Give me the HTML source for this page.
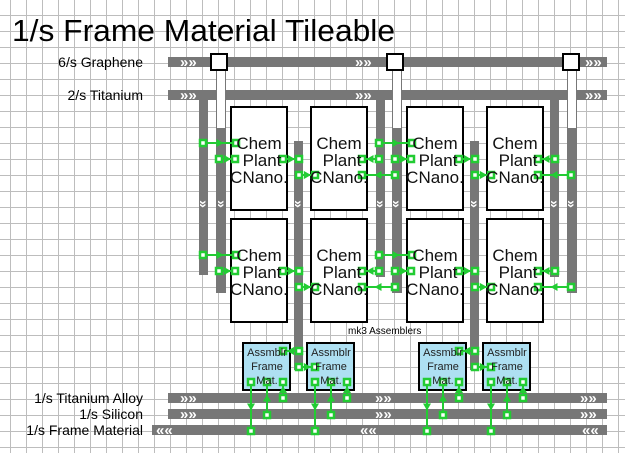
<!DOCTYPE html>
<html><head><meta charset="utf-8"><style>
html,body{margin:0;padding:0;background:#fff}
svg{display:block}
text{font-family:"Liberation Sans",Arial,sans-serif}
</style></head><body>
<svg id="s" width="625" height="453" viewBox="0 0 625 453" xmlns="http://www.w3.org/2000/svg">
<g id="grid" stroke="#bdbdbd" stroke-width="1"></g>
<g id="belts" fill="#777"></g>
<g id="boxes"></g>
<g id="ins"></g>
<g id="txt">
<text x="12" y="41" font-size="31" textLength="383" lengthAdjust="spacingAndGlyphs">1/s Frame Material  Tileable</text>
<text x="143" y="67" font-size="14" text-anchor="end">6/s Graphene</text>
<text x="143" y="100" font-size="14" text-anchor="end">2/s Titanium</text>
<text x="143" y="403" font-size="14" text-anchor="end">1/s Titanium Alloy</text>
<text x="143" y="419" font-size="14" text-anchor="end">1/s Silicon</text>
<text x="143" y="435" font-size="14" text-anchor="end">1/s Frame Material</text>
<text x="348" y="334" font-size="10">mk3 Assemblers</text>
</g>
<g id="ptxt" font-size="17" fill="#111" text-anchor="middle">
<text x="259" y="149">Chem</text><text x="262" y="166">Plant</text><text x="259" y="183">CNano.</text>
<text x="339" y="149">Chem</text><text x="342" y="166">Plant</text><text x="339" y="183">CNano.</text>
<text x="435" y="149">Chem</text><text x="438" y="166">Plant</text><text x="435" y="183">CNano.</text>
<text x="515" y="149">Chem</text><text x="518" y="166">Plant</text><text x="515" y="183">CNano.</text>
<text x="259" y="261">Chem</text><text x="262" y="278">Plant</text><text x="259" y="295">CNano.</text>
<text x="339" y="261">Chem</text><text x="342" y="278">Plant</text><text x="339" y="295">CNano.</text>
<text x="435" y="261">Chem</text><text x="438" y="278">Plant</text><text x="435" y="295">CNano.</text>
<text x="515" y="261">Chem</text><text x="518" y="278">Plant</text><text x="515" y="295">CNano.</text>
</g>
<g id="atxt" font-size="11" fill="#222" text-anchor="middle">
<text x="267" y="356">Assmblr</text><text x="267" y="370">Frame</text><text x="267" y="384">Mat.</text>
<text x="331" y="356">Assmblr</text><text x="331" y="370">Frame</text><text x="331" y="384">Mat.</text>
<text x="443" y="356">Assmblr</text><text x="443" y="370">Frame</text><text x="443" y="384">Mat.</text>
<text x="507" y="356">Assmblr</text><text x="507" y="370">Frame</text><text x="507" y="384">Mat.</text>
</g>
<g id="chev" fill="#fff" font-size="15" font-weight="bold">
<text x="180" y="67">»»</text><text x="355" y="67">»»</text><text x="585" y="67">»»</text>
<text x="180" y="100">»»</text><text x="355" y="100">»»</text><text x="585" y="100">»»</text>
<text x="180" y="403">»»</text><text x="375" y="403">»»</text><text x="580" y="403">»»</text>
<text x="180" y="419">»»</text><text x="375" y="419">»»</text><text x="580" y="419">»»</text>
<text x="156" y="435">««</text><text x="360" y="435">««</text><text x="582" y="435">««</text>
</g>
</svg>
<script>
var NS="http://www.w3.org/2000/svg";
function el(p,t,a){var e=document.createElementNS(NS,t);for(var k in a)e.setAttribute(k,a[k]);document.getElementById(p).appendChild(e);return e;}
for(var x=10;x<625;x+=16)el("grid","line",{x1:x+.5,y1:0,x2:x+.5,y2:453});
for(var y=15;y<453;y+=16)el("grid","line",{x1:0,y1:y+.5,x2:625,y2:y+.5});
function R(x,y,w,h,f){el("belts","rect",{x:x,y:y,width:w,height:h,fill:f||"#777"});}
R(168,57,439,10);R(168,90,439,10);
R(168,393,439,10);R(168,409,439,10);R(152,425,455,10);
R(199,95,9,180);R(376,95,9,182);R(550,95,9,182);
[216,392,567].forEach(function(x){R(x,67,10,226);el("belts","rect",{x:x+1,y:68,width:8,height:60,fill:"#fff"});});
R(294,141,9,229);R(470,141,9,229);
[211,387,563].forEach(function(x){el("boxes","rect",{x:x,y:54,width:16,height:16,fill:"#fff",stroke:"#000","stroke-width":2});});
[231,311,407,487].forEach(function(x){[107,219].forEach(function(y){el("boxes","rect",{x:x,y:y,width:56,height:103,fill:"#fff",stroke:"#000","stroke-width":2});});});
[243,307,419,483].forEach(function(x){el("boxes","rect",{x:x,y:343,width:47,height:47,fill:"#aee0f2",stroke:"#000","stroke-width":2});});
[203,221,298,380,396,474,554,571].forEach(function(x){var t=el("chev","text",{x:x,y:208,"text-anchor":"middle","font-size":"14",transform:"rotate(90 "+x+" 204)"});t.textContent="»";});
var G="#22cc33";
function sq(x,y){el("ins","rect",{x:x-3,y:y-3,width:6,height:6,fill:"#fff",stroke:G,"stroke-width":2.5});}
function ins(x1,y1,x2,y2){el("ins","line",{x1:x1,y1:y1,x2:x2,y2:y2,stroke:G,"stroke-width":2});
 var mx=(x1+x2)/2,my=(y1+y2)/2,dx=Math.sign(x2-x1),dy=Math.sign(y2-y1);
 var p;if(dx)p=[mx+4*dx,my,mx-3*dx,my-4,mx-3*dx,my+4];else p=[mx,my+4*dy,mx-4,my-3*dy,mx+4,my-3*dy];
 el("ins","polygon",{points:p.join(","),fill:G});sq(x1,y1);sq(x2,y2);}
[0,112].forEach(function(o){
 var r1=143+o,r2=159+o,r3=175+o;
 ins(203,r1,236,r1);ins(219,r2,235,r2);
 ins(283,r2,299,r2);ins(299,r3,315,r3);
 ins(379,r1,412,r1);ins(379,r2,362,r2);ins(395,r2,411,r2);ins(395,r3,362,r3);
 ins(459,r2,475,r2);ins(475,r3,491,r3);
 ins(555,r2,538,r2);ins(571,r3,538,r3);
});
[[299,283],[475,459]].forEach(function(a){ins(a[0],351,a[1],351);ins(a[0],367,a[0]+16,367);});
[243,307,419,483].forEach(function(x){var a=x+8,b=x+24,c=x+40;
 ins(a,382,a,431);ins(b,415,b,382);ins(c,398,c,382);});
</script>
</body></html>
